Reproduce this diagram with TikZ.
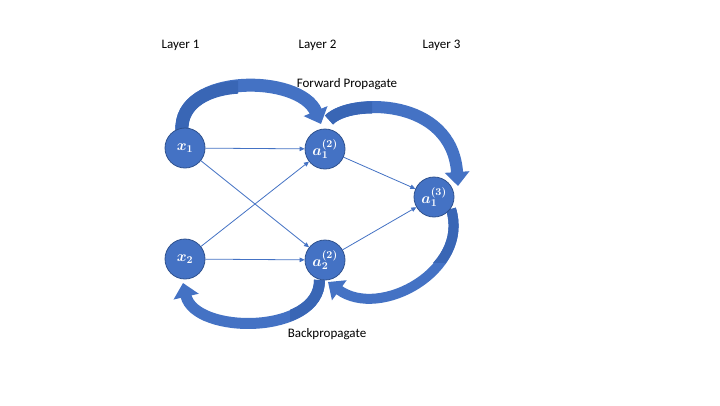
\RequirePackage{fix-cm}
\documentclass[tikz,border=0pt]{standalone}
\usepackage{fontspec}
\setmainfont{Carlito}
\usetikzlibrary{arrows.meta}
\definecolor{nodeblue}{HTML}{4472C4}
\definecolor{nodeborder}{HTML}{2F528F}
\definecolor{darkblue}{HTML}{3966B5}
\tikzset{
  neuron/.style={circle, minimum size=40pt, inner sep=0pt, fill=nodeblue, draw=nodeborder, line width=0.8pt, text=white, font=\fontsize{15}{17}\selectfont\boldmath},
  link/.style={draw=nodeblue, line width=0.8pt, -{Triangle[width=4.5pt,length=5pt]}},
  lbl/.style={font=\fontsize{13}{15}\selectfont, anchor=base, inner sep=0pt},
  band/.style={draw=nodeblue, line cap=butt},
  bandshade/.style={draw=darkblue, line cap=butt}
}
\begin{document}
\begin{tikzpicture}[x=1pt,y=-1pt]
\useasboundingbox (0,0) rectangle (720,405);
\fill[white] (0,0) rectangle (720,405);

% labels
\node[lbl] (l1) at (180.5,48) {Layer 1};
\node[lbl] (l2) at (317.5,48) {Layer 2};
\node[lbl] (l3) at (441.5,48) {Layer 3};
\node[lbl] (fp) at (347,87) {Forward Propagate};
\node[lbl] (bp) at (327,337) {Backpropagate};

% curved block arrows: end coordinates
\coordinate (f1s) at (182,131);  \coordinate (f1e) at (321,124);
\coordinate (f2s) at (329,120);  \coordinate (f2e) at (458,186);
\coordinate (b1s) at (319.5,280); \coordinate (b1e) at (183,283);
\coordinate (b2s) at (451,209);  \coordinate (b2e) at (328,282);

% forward arrow 1
\draw[band, line width=13pt, -{Triangle[width=25pt,length=14pt]}]
  (f1s) .. controls (178,73) and (300,74) .. (f1e);
\begin{scope}
  \clip (150,60) rectangle (238,140);
  \draw[bandshade, line width=13pt] (f1s) .. controls (178,73) and (300,74) .. (f1e);
\end{scope}

% forward arrow 2
\draw[band, line width=12pt, -{Triangle[width=24pt,length=14pt]}]
  (f2s) .. controls (350,98) and (452,97) .. (f2e);
\begin{scope}
  \clip (315,90) rectangle (372,130);
  \draw[bandshade, line width=12pt] (f2s) .. controls (350,98) and (452,97) .. (f2e);
\end{scope}

% back arrow 1
\draw[band, line width=11pt, -{Triangle[width=25pt,length=14pt]}]
  (b1s) .. controls (320,335) and (195,335) .. (b1e);
\begin{scope}
  \clip (290,275) rectangle (340,340);
  \draw[bandshade, line width=11pt] (b1s) .. controls (320,335) and (195,335) .. (b1e);
\end{scope}

% back arrow 2
\draw[band, line width=10pt, -{Triangle[width=24pt,length=14pt]}]
  (b2s) .. controls (470,270) and (380,320) .. (b2e);
\begin{scope}
  \clip (430,200) rectangle (480,262);
  \draw[bandshade, line width=10pt] (b2s) .. controls (470,270) and (380,320) .. (b2e);
\end{scope}

% neurons
\node[neuron] (x1) at (185,148) {$x_1$};
\node[neuron] (x2) at (185,259) {$x_2$};
\node[neuron] (a12) at (325,149) {$a_1^{(2)}$};
\node[neuron] (a22) at (325,260) {$a_2^{(2)}$};
\node[neuron] (a13) at (434,197) {$a_1^{(3)}$};

% connectors
\draw[link] (x1) -- (a12);
\draw[link] (x1) -- (a22);
\draw[link] (x2) -- (a12);
\draw[link] (x2) -- (a22);
\draw[link] (a12) -- (a13);
\draw[link] (a22) -- (a13);
\end{tikzpicture}
\end{document}
